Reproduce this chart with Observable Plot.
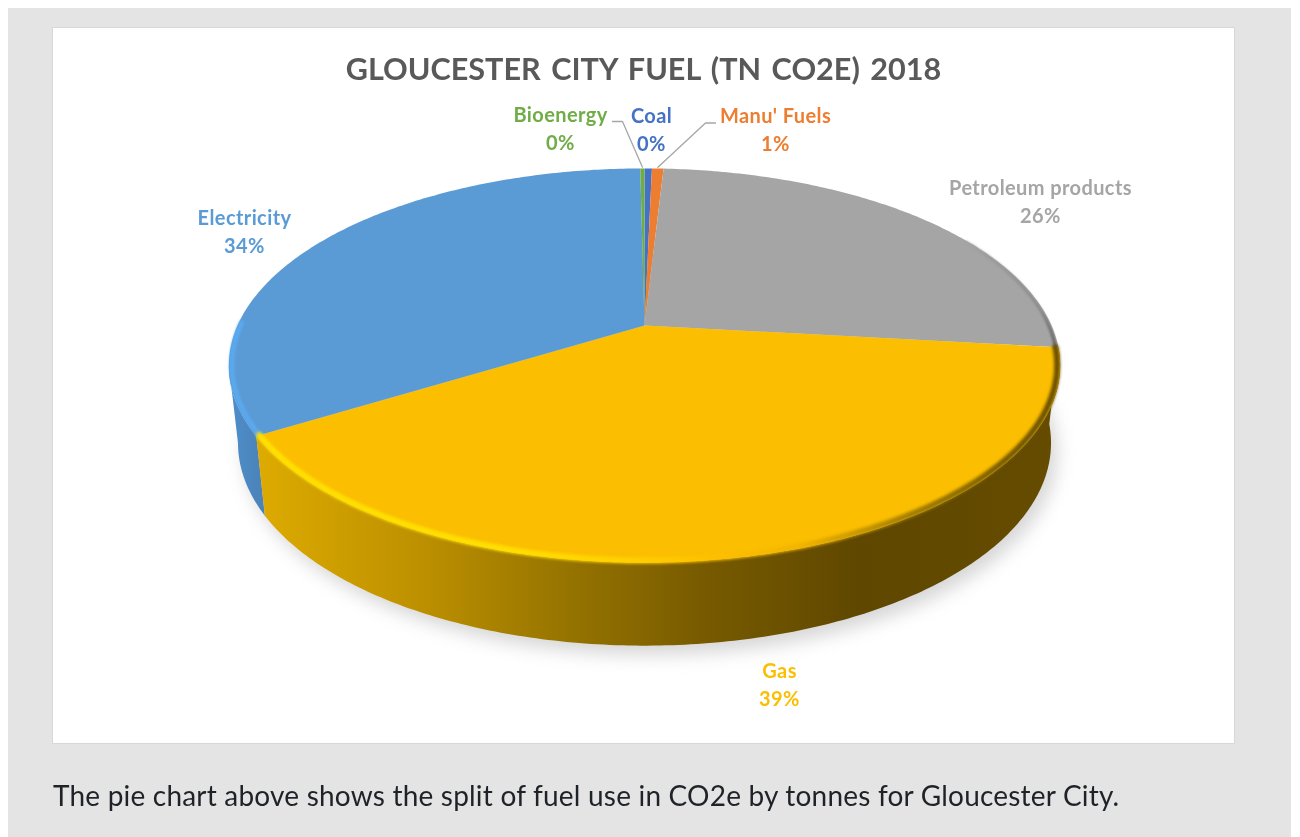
<!DOCTYPE html>
<html>
<head>
<meta charset="utf-8">
<script src="https://cdn.jsdelivr.net/npm/d3@7"></script>
<script src="https://cdn.jsdelivr.net/npm/@observablehq/plot@0.6"></script>
<style>
  html, body { margin: 0; padding: 0; background: #fff; overflow: hidden; }
  #page { position: absolute; left: 8px; top: 8px; width: 1283px; height: 829px; background: #e4e4e4; filter: blur(0.5px); overflow: hidden; }
  #panel { position: absolute; left: 45px; top: 20px; width: 1181px; height: 715px; background: #fff; outline: 1px solid #d8d8d8; }
  #title { position: absolute; left: 0; width: 1181px; top: 21px; text-align: center; font: 700 30.6px Lato, sans-serif; word-spacing: 3px; color: #595959; line-height: 40px; white-space: nowrap; }
  #chart { position: absolute; left: 0; top: 72px; }
  #chart svg { display: block; overflow: visible; background: transparent; }
  #chart text { letter-spacing: 0.4px; }
  #caption { position: absolute; left: 45px; top: 769px; font: 400 28px Lato, sans-serif; letter-spacing: 0.2px; color: #1f2328; line-height: 36px; white-space: nowrap; }
</style>
</head>
<body>
<div id="page">
  <div id="panel">
    <div id="title">GLOUCESTER CITY FUEL (TN CO2E) 2018</div>
    <div id="chart"></div>
  </div>
  <div id="caption">The pie chart above shows the split of fuel use in CO2e by tonnes for Gloucester City.</div>
</div>
<script>
// Data, clockwise from twelve o'clock (percent of tonnes CO2e)
const sliceNames  = ["Coal", "Manu' Fuels", "Petroleum products", "Gas", "Electricity", "Bioenergy"];
const sliceValues = [0.35, 0.55, 25.9, 39.45, 33.55, 0.2];
const sliceColors = ["#4472c4", "#ed7d31", "#a5a5a5", "#fcbe00", "#5b9bd5", "#70ad47"];

// Label placement (page pixels of the label centre)
const labelX = [651, 775, 1040, 779, 244, 560];
const labelY = [116, 116, 188, 671, 218, 115];
const lineGap = 28;

// Tilted-disc view
const cx = 644, cy = 325, rx = 407, ry = 189, persp = 0.203;
const depthBase = 76, depthTilt = 7, bottomScale = 0.978;

function rimPoint(frac, r = 1) {
  const t = frac * 2 * Math.PI, u = r * Math.sin(t), v = -r * Math.cos(t), w = 1 - persp * v;
  return {x: cx + u * rx / w, y: cy + v * ry / w};
}
function basePoint(frac) {
  const t = frac * 2 * Math.PI, u = Math.sin(t), v = -Math.cos(t), w = 1 - persp * v;
  return {x: cx + bottomScale * u * rx / w, y: cy + v * ry / w + depthBase + depthTilt * v};
}
function arcFracs(a, b) {
  const n = Math.max(2, Math.ceil((b - a) / 0.002));
  return d3.range(n + 1).map(i => a + (b - a) * i / n);
}

let acc = 0;
const slices = sliceNames.map((name, i) => {
  const a = acc / 100; acc += sliceValues[i];
  return {name, value: sliceValues[i], a, b: acc / 100, mid: (a + acc / 100) / 2, color: sliceColors[i],
          lx: labelX[i], ly: labelY[i]};
});
const byName = Object.fromEntries(slices.map(s => [s.name, s]));
const gas = byName["Gas"], elec = byName["Electricity"], petrol = byName["Petroleum products"];

const wedges = slices.flatMap(s => [
  {name: s.name, x: cx, y: cy},
  ...arcFracs(s.a, s.b).map(f => ({name: s.name, ...rimPoint(f)}))
]);
// the left silhouette of the disc sits where the rim is widest on screen
const leftmost = 0.75 - Math.asin(persp) / (2 * Math.PI);
const wall = (a, b) => [...arcFracs(a, b).map(f => rimPoint(f)), ...arcFracs(a, b).reverse().map(basePoint)];
const gasWall = wall(gas.a, gas.b);
const elecWall = wall(elec.a, leftmost);
const shadow = arcFracs(0, 1).map(basePoint).map(p => ({x: p.x + 6, y: p.y + 9}));

const rimAt = 0.993;
const gasRim = arcFracs(gas.a, gas.b).map(f => rimPoint(f, rimAt));
const elecRim = arcFracs(elec.a, leftmost + 0.035).map(f => rimPoint(f, rimAt));
const petrolRim = arcFracs(petrol.a + 0.16, petrol.b).map(f => rimPoint(f, rimAt));

const pct = s => Math.round(s.value) + "%";

// Leader lines for the two thin slices whose labels sit beside them
const leaders = [
  {id: "Bioenergy", pts: [{x: 612, y: 121}, {x: 622, y: 121}, rimPoint(byName["Bioenergy"].mid, 1.01)]},
  {id: "Manu' Fuels", pts: [{x: 715, y: 122.5}, {x: 705, y: 122.5}, rimPoint(byName["Manu' Fuels"].mid, 1.01)]}
].flatMap(l => l.pts.map(p => ({id: l.id, ...p})));

function gradient(defs, id, scales, stops) {
  const g = defs.append("linearGradient").attr("id", id).attr("gradientUnits", "userSpaceOnUse")
    .attr("x1", scales.x(stops[0][0])).attr("x2", scales.x(stops[stops.length - 1][0])).attr("y1", 0).attr("y2", 0);
  const span = stops[stops.length - 1][0] - stops[0][0];
  stops.forEach(([x, c]) => g.append("stop").attr("offset", (x - stops[0][0]) / span).attr("stop-color", c));
}

const chart = Plot.plot({
  width: 1181, height: 643,
  margin: 0,
  x: {domain: [53, 1234], range: [0, 1181], axis: null},
  y: {domain: [100, 743], range: [0, 643], axis: null},
  color: {domain: sliceNames, range: sliceColors},
  marks: [
    (index, scales) => {
      const defs = d3.create("svg:defs");
      gradient(defs, "gasSide", scales, [[262, "#dcaa00"], [420, "#bd9000"], [550, "#9a7700"], [700, "#785b00"], [860, "#5f4700"], [1060, "#654c00"]]);
      gradient(defs, "gasRim", scales, [[262, "#ffe000"], [500, "#ffe000"], [620, "#ffd200"], [720, "#fcbe00"], [800, "#f0b400"], [900, "#a88200"], [1000, "#7a5d00"], [1060, "#6a5000"]]);
      gradient(defs, "petrolRim", scales, [[960, "#a5a5a5"], [1040, "#8a8a8a"], [1060, "#555555"]]);
      gradient(defs, "elecSide", scales, [[228, "#4f8ecb"], [270, "#4a80b4"]]);
      return defs.node();
    },
    Plot.line(shadow, {x: "x", y: "y", fill: "#d6d6d6", stroke: "none", curve: "linear-closed", imageFilter: "blur(9px)"}),
    Plot.line(elecWall, {x: "x", y: "y", fill: "url(#elecSide)", stroke: "none", curve: "linear-closed"}),
    Plot.line(gasWall, {x: "x", y: "y", fill: "url(#gasSide)", stroke: "none", curve: "linear-closed"}),
    Plot.line(wedges, {x: "x", y: "y", z: "name", fill: "name", stroke: "none", curve: "linear-closed"}),
    Plot.line(elecRim, {x: "x", y: "y", stroke: "#5aa9ee", strokeWidth: 5, imageFilter: "blur(1.2px)"}),
    Plot.line(petrolRim, {x: "x", y: "y", stroke: "url(#petrolRim)", strokeWidth: 3, imageFilter: "blur(1px)"}),
    Plot.line(gasRim, {x: "x", y: "y", stroke: "url(#gasRim)", strokeWidth: 6, imageFilter: "blur(1.5px)"}),
    Plot.line(leaders, {x: "x", y: "y", z: "id", stroke: "#a6a6a6", strokeWidth: 1.3}),
    Plot.text(slices, {x: "lx", y: "ly", text: "name", fill: "name", fontSize: 20, fontWeight: 700, fontFamily: "Lato, sans-serif"}),
    Plot.text(slices, {x: "lx", y: d => d.ly + lineGap, text: pct, fill: "name", fontSize: 20, fontWeight: 700, fontFamily: "Lato, sans-serif"})
  ]
});
document.getElementById("chart").append(chart);
</script>
</body>
</html>
